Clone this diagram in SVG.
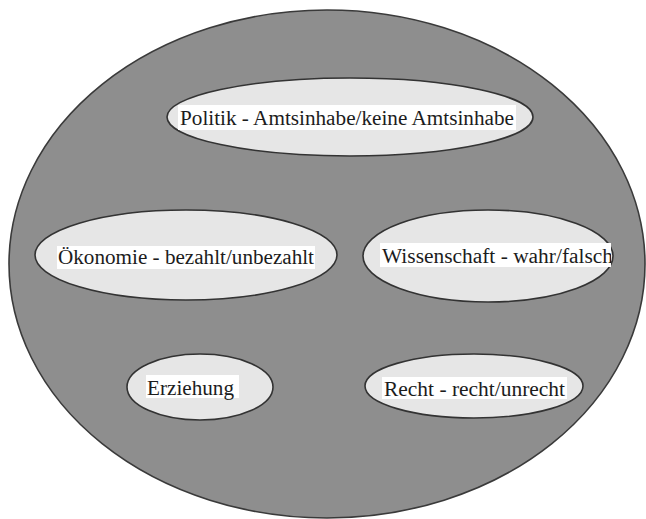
<svg xmlns="http://www.w3.org/2000/svg" width="646" height="519" viewBox="0 0 646 519">
  <defs>
    <style>
      .outer { fill: #8e8e8e; stroke: #3a3a3a; stroke-width: 1.6; }
      .node { fill: #e6e6e6; stroke: #333333; stroke-width: 1.6; }
      .lbg { fill: #ffffff; }
      .lbl { font-family: 'Liberation Serif', 'DejaVu Serif', serif; font-size: 20px; fill: #1c1c1c; }
    </style>
    <clipPath id="clipW">
      <rect x="370" y="230" width="241" height="50"/>
    </clipPath>
  </defs>
  <rect width="646" height="519" fill="#ffffff"/>
  <g id="system">
    <ellipse class="outer" cx="327" cy="264" rx="318" ry="254"/>
  </g>
  <g id="connectors"/>
  <g id="politik">
    <ellipse class="node" cx="350" cy="117" rx="183" ry="39"/>
    <rect class="lbg" x="178" y="105" width="338" height="25"/>
    <text class="lbl" font-family="Liberation Serif, DejaVu Serif, serif" x="180" y="125" textLength="334" lengthAdjust="spacingAndGlyphs">Politik - Amtsinhabe/keine Amtsinhabe</text>
  </g>
  <g id="oekonomie">
    <ellipse class="node" cx="186" cy="255" rx="151" ry="45"/>
    <rect class="lbg" x="57" y="246" width="258" height="23"/>
    <text class="lbl" font-family="Liberation Serif, DejaVu Serif, serif" x="58" y="264" textLength="256" lengthAdjust="spacingAndGlyphs">Ökonomie - bezahlt/unbezahlt</text>
  </g>
  <g id="wissenschaft">
    <ellipse class="node" cx="488" cy="256" rx="125" ry="46"/>
    <rect class="lbg" x="380" y="243" width="231" height="24"/>
    <text class="lbl" font-family="Liberation Serif, DejaVu Serif, serif" x="382" y="263" textLength="231" lengthAdjust="spacingAndGlyphs" clip-path="url(#clipW)">Wissenschaft - wahr/falsch</text>
  </g>
  <g id="erziehung">
    <ellipse class="node" cx="200" cy="387" rx="73" ry="33"/>
    <rect class="lbg" x="146" y="375" width="93" height="23"/>
    <text class="lbl" font-family="Liberation Serif, DejaVu Serif, serif" x="147" y="395" textLength="87" lengthAdjust="spacingAndGlyphs">Erziehung</text>
  </g>
  <g id="recht">
    <ellipse class="node" cx="474" cy="386" rx="109" ry="32"/>
    <rect class="lbg" x="382" y="377" width="185" height="22"/>
    <text class="lbl" font-family="Liberation Serif, DejaVu Serif, serif" x="384" y="396" textLength="181" lengthAdjust="spacingAndGlyphs">Recht - recht/unrecht</text>
  </g>
</svg>
